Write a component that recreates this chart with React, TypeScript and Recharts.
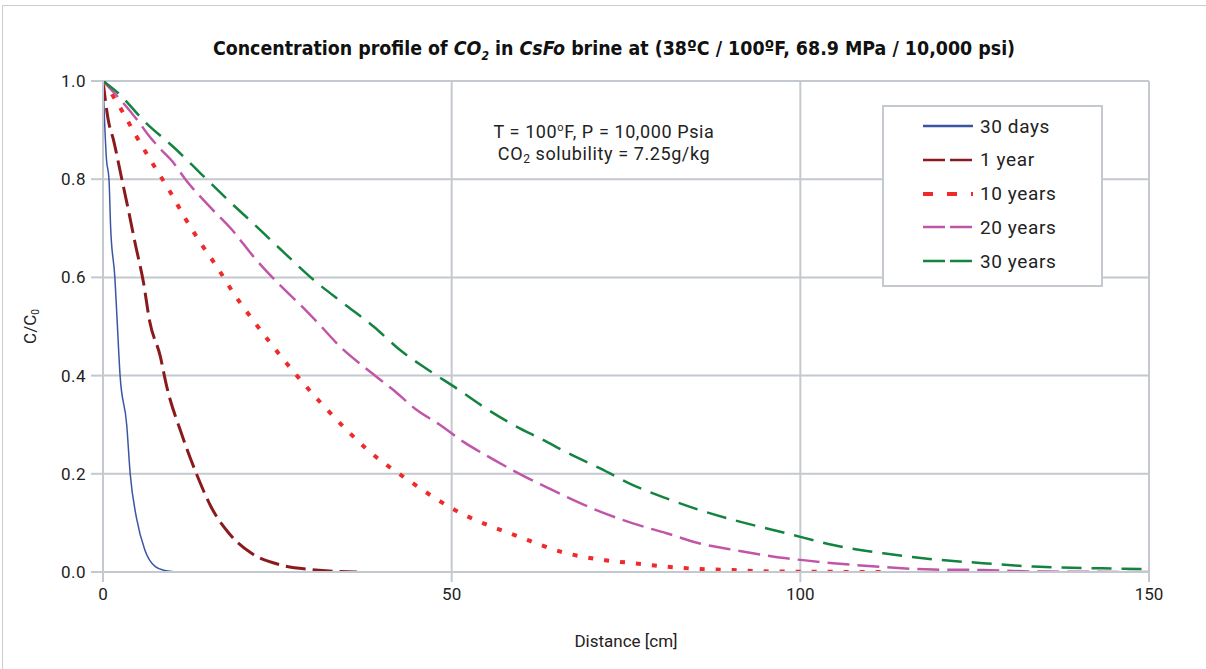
import React from "react";
import { CartesianGrid, Label, Line, LineChart, XAxis, YAxis } from "recharts";

// Curves: [distance cm, C/C0]
const days30: [number, number][] = [
  [0, 1], [0.5, 0.84], [0.86, 0.8], [1.1, 0.7], [1.7, 0.6], [2.0, 0.52], [2.45, 0.4],
  [3.4, 0.3], [3.9, 0.2], [4.8, 0.11], [6.0, 0.045], [7.5, 0.011], [8.9, 0.003], [10.6, 0],
];
const year1: [number, number][] = [
  [0, 1], [0.76, 0.92], [1.5, 0.88], [2.7, 0.8], [3.6, 0.74], [4.6, 0.67], [5.8, 0.59],
  [6.7, 0.51], [8.2, 0.44], [9.1, 0.38], [11.3, 0.28], [13.4, 0.2], [15.6, 0.13], [18, 0.08],
  [21.3, 0.038], [25.6, 0.014], [29.9, 0.005], [36.4, 0],
];
const years10: [number, number][] = [
  [0, 1], [1.5, 0.968], [2.7, 0.94], [4.8, 0.887], [7.2, 0.83], [9.6, 0.775], [11.8, 0.72],
  [14.2, 0.666], [16.5, 0.618], [18.9, 0.564], [21.3, 0.517], [27.5, 0.405], [34.9, 0.29],
  [37.6, 0.253], [44, 0.185], [50.5, 0.126], [60, 0.07], [66, 0.04], [72, 0.024], [76, 0.018],
  [80.8, 0.011], [85.6, 0.006], [90.4, 0.004], [96, 0.001], [111.7, 0],
];
const years20: [number, number][] = [
  [0, 1], [3.15, 0.951], [5.1, 0.917], [6.5, 0.89], [8.4, 0.859], [9.9, 0.837], [11.8, 0.8],
  [15.1, 0.747], [18.5, 0.697], [21.6, 0.642], [24.9, 0.591], [28.3, 0.544], [30.9, 0.506],
  [34, 0.459], [38.3, 0.408], [41.6, 0.371], [45, 0.33], [48.3, 0.3], [51.7, 0.265],
  [55, 0.237], [60, 0.198], [65, 0.163], [71.3, 0.123], [76, 0.099], [80.8, 0.079],
  [85.6, 0.058], [90.4, 0.045], [98, 0.028], [104.7, 0.018], [111.9, 0.01], [119, 0.005],
  [126.2, 0.004], [133.4, 0.001], [150, 0],
];
const years30: [number, number][] = [
  [0, 1], [2.2, 0.975], [6, 0.917], [10.3, 0.863], [14.2, 0.809], [18.2, 0.754], [22.3, 0.7],
  [26.3, 0.646], [30.2, 0.595], [34.3, 0.549], [38.8, 0.5], [42.6, 0.452], [46.7, 0.411],
  [50.7, 0.374], [54.5, 0.337], [58.8, 0.3], [63.1, 0.269], [67, 0.24], [71.3, 0.211],
  [76, 0.177], [80.8, 0.15], [85.6, 0.126], [90.4, 0.106], [98, 0.079], [104.7, 0.055],
  [111.9, 0.038], [119, 0.026], [126.2, 0.018], [133.4, 0.011], [145, 0.007], [150, 0.006],
];

const xTicks = [0, 50, 100, 150];
const yTicks = [0, 0.2, 0.4, 0.6, 0.8, 1.0];

const GRID = "#c3c9ce";
const FONT = "Roboto, 'Noto Sans', sans-serif";

const SERIES = [
  { name: "30 days", points: days30, color: "#3b55a5", width: 1.5, dash: undefined, legendDash: undefined },
  { name: "1 year", points: year1, color: "#8b1a1d", width: 3, dash: "20 7", legendDash: "22 5" },
  { name: "10 years", points: years10, color: "#ee2a2a", width: 4, dash: "5 11", legendDash: "10 14" },
  { name: "20 years", points: years20, color: "#c156a8", width: 2.5, dash: "22 8", legendDash: "22 5" },
  { name: "30 years", points: years30, color: "#12843f", width: 2.5, dash: "20 10", legendDash: "22 5" },
];

const toRows = (pts: [number, number][]) => pts.map(([x, y]) => ({ x, y }));

function YLabel({ viewBox }: any) {
  const cx = 32;
  const cy = viewBox ? viewBox.y + viewBox.height / 2 : 327;
  return (
    <text
      x={cx}
      y={cy}
      transform={`rotate(-90, ${cx}, ${cy})`}
      textAnchor="middle"
      dominantBaseline="middle"
      fontFamily={FONT}
      fontSize={17}
      fill="#222"
    >
      C/C<tspan fontSize={10} dy={4}>0</tspan>
    </text>
  );
}

function ChartLegend() {
  return (
    <div
      style={{
        position: "absolute",
        left: 882,
        top: 105,
        width: 217,
        height: 178,
        border: `2px solid ${GRID}`,
        background: "#fff",
        fontFamily: FONT,
        fontSize: 19,
        letterSpacing: 0.6,
        color: "#222",
      }}
    >
      {SERIES.map((s, i) => (
        <div
          key={s.name}
          style={{ position: "absolute", left: 38, top: 4 + i * 33.75, height: 30, display: "flex", alignItems: "center" }}
        >
          <svg width={52} height={10} style={{ marginRight: 6 }}>
            <line x1={1} y1={5} x2={51} y2={5} stroke={s.color} strokeWidth={s.width > 3 ? 4 : 2.5} strokeDasharray={s.legendDash} />
          </svg>
          <span>{s.name}</span>
        </div>
      ))}
    </div>
  );
}

export default function App() {
  return (
    <div style={{ position: "fixed", left: 0, top: 0, width: 1206, height: 669, background: "#fff", overflow: "hidden" }}>
      <div style={{ position: "absolute", left: 2, top: 5, width: 1230, height: 700, border: "1.5px solid #c8cdd1" }} />
      <div
        style={{
          position: "absolute",
          left: 0,
          top: 37,
          width: 1228,
          textAlign: "center",
          fontFamily: "'Liberation Sans Narrow', 'DejaVu Sans Condensed', sans-serif",
          fontWeight: 700,
          fontSize: 19.4,
          color: "#111",
        }}
      >
        Concentration profile of <i>CO<sub style={{ fontSize: 12 }}>2</sub></i> in <i>CsFo</i> brine at (38ºC / 100ºF, 68.9 MPa / 10,000 psi)
      </div>
      <LineChart
        width={1206}
        height={669}
        margin={{ top: 81, right: 57, bottom: 67, left: 43 }}
        style={{ position: "absolute", left: 0, top: 0 }}
      >
        <CartesianGrid stroke={GRID} strokeWidth={2} />
        <XAxis
          type="number"
          dataKey="x"
          domain={[0, 150]}
          ticks={xTicks}
          allowDataOverflow
          height={30}
          stroke={GRID}
          strokeWidth={2}
          tickSize={10}
          tickMargin={6}
          tick={{ fontFamily: FONT, fontSize: 17, fill: "#222" }}
        >
          <Label
            value="Distance [cm]"
            position="insideBottom"
            offset={-45}
            style={{ fontFamily: FONT, fontSize: 17, fill: "#222" }}
          />
        </XAxis>
        <YAxis
          type="number"
          dataKey="y"
          domain={[0, 1]}
          ticks={yTicks}
          allowDataOverflow
          width={60}
          stroke={GRID}
          strokeWidth={2}
          tickSize={12}
          tickMargin={5}
          tickFormatter={(v: number) => v.toFixed(1)}
          tick={{ fontFamily: FONT, fontSize: 17, fill: "#222", letterSpacing: 0.5 }}
          label={<YLabel />}
        />
        {SERIES.map((s) => (
          <Line
            key={s.name}
            data={toRows(s.points)}
            dataKey="y"
            name={s.name}
            type="monotone"
            stroke={s.color}
            strokeWidth={s.width}
            strokeDasharray={s.dash}
            dot={false}
            activeDot={false}
            isAnimationActive={false}
          />
        ))}
      </LineChart>
      <div
        style={{
          position: "absolute",
          left: 404,
          top: 117,
          width: 400,
          textAlign: "center",
          fontFamily: FONT,
          fontSize: 18,
          letterSpacing: 0.6,
          lineHeight: "22px",
          color: "#222",
        }}
      >
        <div>
          T = 100<sup style={{ fontSize: 11 }}>o</sup>F, P = 10,000 Psia
        </div>
        <div>
          CO<sub style={{ fontSize: 12, verticalAlign: "-3px" }}>2</sub> solubility = 7.25g/kg
        </div>
      </div>
      <ChartLegend />
    </div>
  );
}
